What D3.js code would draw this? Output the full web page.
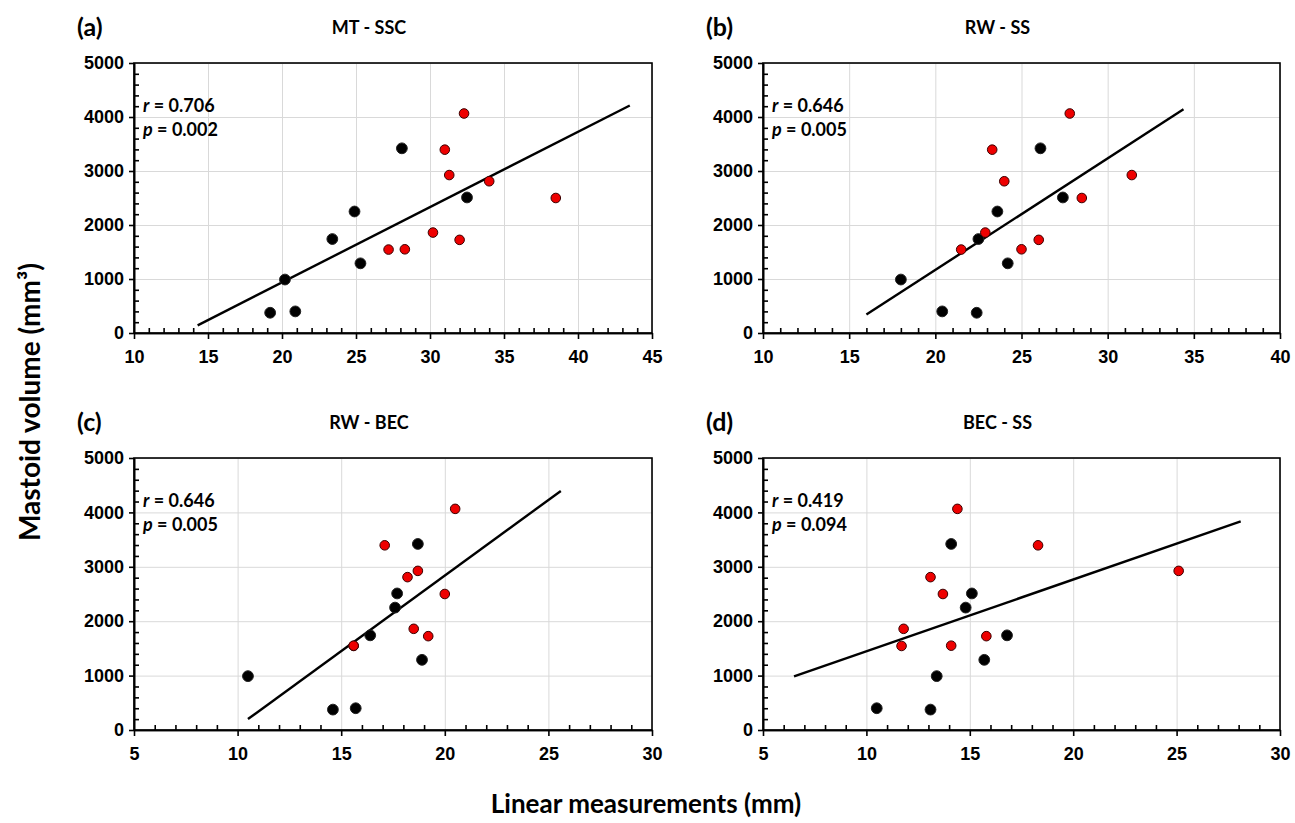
<!DOCTYPE html>
<html>
<head>
<meta charset="utf-8">
<script src="https://cdn.jsdelivr.net/npm/d3@7"></script>
<style>
  body { margin: 0; background: #fff; }
  svg { font-family: Lato, "Open Sans", sans-serif; }
  .grid line { stroke: #d9d9d9; stroke-width: 1; }
  .grid path { display: none; }
  .axis path, .axis line { stroke: #000; stroke-width: 1.6; }
  .axis text { font-size: 18px; font-weight: bold; fill: #000; }
</style>
</head>
<body>
<svg width="1295" height="823"></svg>
<script>
// Mastoid volume (mm3) - same subjects in every panel
const volBlack = [375, 990, 400, 1740, 2250, 1290, 3420, 2510];
const volRed = [1545, 1550, 1860, 3395, 2925, 1725, 4065, 2810, 2500];

// Linear measurements (mm) for each panel, same subject order
const mtSscBlack = [19.2, 20.2, 20.9, 23.4, 24.9, 25.3, 28.1, 32.5];
const mtSscRed = [27.2, 28.3, 30.2, 31.0, 31.3, 32.0, 32.3, 34.0, 38.5];
const rwSsBlack = [22.4, 18.0, 20.4, 22.5, 23.6, 24.2, 26.1, 27.4];
const rwSsRed = [21.5, 25.0, 22.9, 23.3, 31.4, 26.0, 27.8, 24.0, 28.5];
const rwBecBlack = [14.6, 10.5, 15.7, 16.4, 17.6, 18.9, 18.7, 17.7];
const rwBecRed = [15.6, 15.6, 18.5, 17.1, 18.7, 19.2, 20.5, 18.2, 20.0];
const becSsBlack = [13.1, 13.4, 10.5, 16.8, 14.8, 15.7, 14.1, 15.1];
const becSsRed = [11.7, 14.1, 11.8, 18.3, 25.1, 15.8, 14.4, 13.1, 13.7];

const panelTags = ["(a)", "(b)", "(c)", "(d)"];
const panelTitles = ["MT - SSC", "RW - SS", "RW - BEC", "BEC - SS"];
const rValues = ["0.706", "0.646", "0.646", "0.419"];
const pValues = ["0.002", "0.005", "0.005", "0.094"];
const xDomains = [[10, 45], [10, 40], [5, 30], [5, 30]];
const trendRanges = [[14.3, 43.5], [16.0, 34.4], [10.5, 25.6], [6.5, 28.1]];
const yTicks = [0, 1000, 2000, 3000, 4000, 5000];

const blackX = [mtSscBlack, rwSsBlack, rwBecBlack, becSsBlack];
const redX = [mtSscRed, rwSsRed, rwBecRed, becSsRed];

const svg = d3.select("svg");

// plot boxes (pixels)
const cols = [[134, 652], [763, 1280]];
const rows = [[63, 333], [458, 730]];

function fit(xs, ys) {
  const mx = d3.mean(xs), my = d3.mean(ys);
  const b = d3.sum(xs, (x, i) => (x - mx) * (ys[i] - my)) / d3.sum(xs, x => (x - mx) * (x - mx));
  return x => my + b * (x - mx);
}

panelTags.forEach((tag, i) => {
  const [x0, x1] = cols[i % 2];
  const [y0, y1] = rows[Math.floor(i / 2)];
  const x = d3.scaleLinear().domain(xDomains[i]).range([x0, x1]);
  const y = d3.scaleLinear().domain([0, 5000]).range([y1, y0]);
  const g = svg.append("g");

  const xMajor = d3.range(xDomains[i][0], xDomains[i][1] + 0.1, 5);
  const xMinor = d3.range(xDomains[i][0] + 1, xDomains[i][1], 1).filter(v => (v - xDomains[i][0]) % 5 !== 0);
  const yMinor = d3.range(200, 5000, 200).filter(v => v % 1000 !== 0);

  // gridlines
  g.append("g").attr("class", "grid")
    .attr("transform", `translate(0,${y1})`)
    .call(d3.axisBottom(x).tickValues(xMajor).tickSize(-(y1 - y0)).tickFormat(""));
  g.append("g").attr("class", "grid")
    .attr("transform", `translate(${x0},0)`)
    .call(d3.axisLeft(y).tickValues(yTicks).tickSize(-(x1 - x0)).tickFormat(""));

  // box
  g.append("rect")
    .attr("x", x0).attr("y", y0)
    .attr("width", x1 - x0).attr("height", y1 - y0)
    .attr("fill", "none").attr("stroke", "#000").attr("stroke-width", 1.6);

  // axes
  g.append("g").attr("class", "axis")
    .attr("transform", `translate(0,${y1})`)
    .call(d3.axisBottom(x).tickValues(xMajor).tickSize(6).tickPadding(11).tickFormat(d3.format("d")).tickSizeOuter(0))
    .selectAll("text").attr("dy", "0.71em");
  g.append("g").attr("class", "axis")
    .attr("transform", `translate(0,${y1})`)
    .call(d3.axisTop(x).tickValues(xMinor).tickSize(5).tickFormat("").tickSizeOuter(0));
  g.append("g").attr("class", "axis")
    .attr("transform", `translate(${x0},0)`)
    .call(d3.axisLeft(y).tickValues(yTicks).tickSize(5).tickPadding(5).tickFormat(d3.format("d")).tickSizeOuter(0));
  g.append("g").attr("class", "axis")
    .attr("transform", `translate(${x0},0)`)
    .call(d3.axisRight(y).tickValues(yMinor).tickSize(5).tickFormat("").tickSizeOuter(0));

  // trend line (least squares over all subjects)
  const allX = blackX[i].concat(redX[i]);
  const allY = volBlack.concat(volRed);
  const f = fit(allX, allY);
  g.append("path")
    .datum(trendRanges[i])
    .attr("d", d3.line().x(d => x(d)).y(d => y(f(d))))
    .attr("stroke", "#000").attr("stroke-width", 2.4).attr("fill", "none");

  // points
  g.append("g").selectAll("circle")
    .data(blackX[i].map((v, k) => [v, volBlack[k]]))
    .join("circle")
    .attr("cx", d => x(d[0])).attr("cy", d => y(d[1])).attr("r", 5.4)
    .attr("fill", "#000").attr("stroke", "#222").attr("stroke-width", 1);
  g.append("g").selectAll("circle")
    .data(redX[i].map((v, k) => [v, volRed[k]]))
    .join("circle")
    .attr("cx", d => x(d[0])).attr("cy", d => y(d[1])).attr("r", 4.8)
    .attr("fill", "#ee0000").attr("stroke", "#3a0000").attr("stroke-width", 1);

  // stats
  const st = g.append("text").attr("x", x0 + 9).attr("y", y0 + 49)
    .attr("font-size", 18).attr("font-weight", "bold");
  st.append("tspan").attr("font-style", "italic").text("r");
  st.append("tspan").text(" = " + rValues[i]);
  const sp = g.append("text").attr("x", x0 + 9).attr("y", y0 + 73)
    .attr("font-size", 18).attr("font-weight", "bold");
  sp.append("tspan").attr("font-style", "italic").text("p");
  sp.append("tspan").text(" = " + pValues[i]);

  // titles
  g.append("text").attr("x", x0 - 57).attr("y", y0 - 27)
    .attr("font-size", 25).attr("font-weight", "bold").text(tag);
  g.append("text").attr("x", (x0 + x1) / 2 - 24).attr("y", y0 - 29)
    .attr("text-anchor", "middle")
    .attr("font-size", 18).attr("font-weight", "bold").text(panelTitles[i]);
});

// shared axis titles
svg.append("text")
  .attr("transform", "translate(40,402) rotate(-90)")
  .attr("text-anchor", "middle")
  .attr("font-size", 28).attr("font-weight", "bold")
  .text("Mastoid volume (mm³)");
svg.append("text")
  .attr("x", 646).attr("y", 813)
  .attr("text-anchor", "middle")
  .attr("font-size", 26).attr("font-weight", "bold")
  .text("Linear measurements (mm)");
</script>
</body>
</html>
